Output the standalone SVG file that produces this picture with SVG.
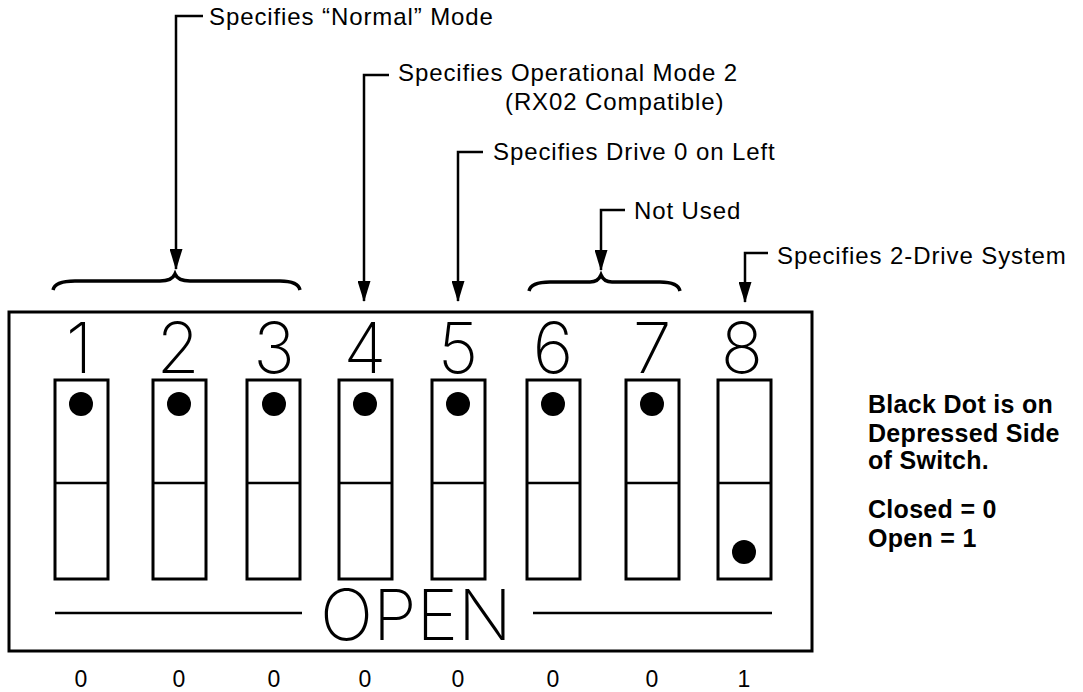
<svg xmlns="http://www.w3.org/2000/svg" width="1083" height="692" viewBox="0 0 1083 692">
<style>
.lbl{font-family:"Liberation Sans",Arial,sans-serif;font-size:24px;letter-spacing:0.9px;fill:#000}
.num{font-family:Inter,"Liberation Sans",sans-serif;font-weight:200;font-size:70px;fill:#000;text-anchor:middle}
.bit{font-family:"Liberation Sans",Arial,sans-serif;font-size:23px;fill:#000;text-anchor:middle}
.note{font-family:"Liberation Sans",Arial,sans-serif;font-weight:bold;font-size:25px;letter-spacing:0.3px;fill:#000}
.ln{stroke:#000;stroke-width:2.5;fill:none}
.sw{stroke:#000;stroke-width:3;fill:#fff}
.br{stroke:#000;stroke-width:3.5;fill:none}
</style>
<defs>
<marker id="ah" markerWidth="21" markerHeight="13" refX="20" refY="6.5" orient="auto" markerUnits="userSpaceOnUse" viewBox="0 0 21 13">
<path d="M0,0 L21,6.5 L0,13 Z" fill="#000"/>
</marker>
</defs>
<g id="box">
<rect x="9" y="312" width="803" height="339" fill="none" stroke="#000" stroke-width="3"/>
<line x1="55" y1="613" x2="302" y2="613" stroke="#000" stroke-width="2.5"/>
<line x1="533" y1="613" x2="772" y2="613" stroke="#000" stroke-width="2.5"/>
<text x="320" y="640" font-family="Inter,'Liberation Sans',sans-serif" font-weight="200" font-size="70" textLength="192" lengthAdjust="spacingAndGlyphs">OPEN</text>
</g>
<g id="switch1"><text class="num" x="79" y="373">1</text><rect class="sw" x="55" y="380" width="53" height="199"/><line class="ln" x1="55" y1="483" x2="108" y2="483"/><circle cx="81" cy="404" r="12"/><text class="bit" x="81" y="687">0</text></g>
<g id="switch2"><text class="num" x="178" y="373">2</text><rect class="sw" x="153" y="380" width="53" height="199"/><line class="ln" x1="153" y1="483" x2="206" y2="483"/><circle cx="179" cy="404" r="12"/><text class="bit" x="179" y="687">0</text></g>
<g id="switch3"><text class="num" x="274" y="373">3</text><rect class="sw" x="247" y="380" width="53" height="199"/><line class="ln" x1="247" y1="483" x2="300" y2="483"/><circle cx="274" cy="404" r="12"/><text class="bit" x="274" y="687">0</text></g>
<g id="switch4"><text class="num" x="365" y="373">4</text><rect class="sw" x="339" y="380" width="53" height="199"/><line class="ln" x1="339" y1="483" x2="392" y2="483"/><circle cx="365" cy="404" r="12"/><text class="bit" x="365" y="687">0</text></g>
<g id="switch5"><text class="num" x="458" y="373">5</text><rect class="sw" x="432" y="380" width="53" height="199"/><line class="ln" x1="432" y1="483" x2="485" y2="483"/><circle cx="458" cy="404" r="12"/><text class="bit" x="458" y="687">0</text></g>
<g id="switch6"><text class="num" x="553" y="373">6</text><rect class="sw" x="527" y="380" width="53" height="199"/><line class="ln" x1="527" y1="483" x2="580" y2="483"/><circle cx="553" cy="404" r="12"/><text class="bit" x="553" y="687">0</text></g>
<g id="switch7"><text class="num" x="652" y="373">7</text><rect class="sw" x="626" y="380" width="53" height="199"/><line class="ln" x1="626" y1="483" x2="679" y2="483"/><circle cx="652" cy="404" r="12"/><text class="bit" x="652" y="687">0</text></g>
<g id="switch8"><text class="num" x="742" y="373">8</text><rect class="sw" x="718" y="380" width="53" height="199"/><line class="ln" x1="718" y1="483" x2="771" y2="483"/><circle cx="744" cy="552" r="12"/><text class="bit" x="744" y="687">1</text></g>
<g id="brace1"><path class="br" d="M53,290 Q55,281 75,281 L160,281 Q172,281 175,274 Q178,281 190,281 L280,281 Q298,281 300,290"/></g>
<g id="brace2"><path class="br" d="M529,291 Q531,282 550,282 L590,282 Q598,282 601,275 Q604,282 612,282 L660,282 Q678,282 680,291"/></g>
<g id="connectors">
<path class="ln" d="M203,16 L176,16 L176,269" marker-end="url(#ah)"/>
<path class="ln" d="M389,75 L364,75 L364,301" marker-end="url(#ah)"/>
<path class="ln" d="M483,152 L458,152 L458,301" marker-end="url(#ah)"/>
<path class="ln" d="M625,210 L601,210 L601,270" marker-end="url(#ah)"/>
<path class="ln" d="M768,253 L745,253 L745,302" marker-end="url(#ah)"/>
</g>
<g id="labels">
<text class="lbl" x="209" y="25">Specifies “Normal” Mode</text>
<text class="lbl" x="398" y="81">Specifies Operational Mode 2</text>
<text class="lbl" x="505" y="110">(RX02 Compatible)</text>
<text class="lbl" x="493" y="160">Specifies Drive 0 on Left</text>
<text class="lbl" x="634" y="219">Not Used</text>
<text class="lbl" x="777" y="264">Specifies 2-Drive System</text>
</g>
<g id="legend">
<text class="note" x="868" y="413">Black Dot is on</text>
<text class="note" x="868" y="442">Depressed Side</text>
<text class="note" x="868" y="469">of Switch.</text>
<text class="note" x="868" y="518">Closed = 0</text>
<text class="note" x="868" y="547">Open = 1</text>
</g>
</svg>
